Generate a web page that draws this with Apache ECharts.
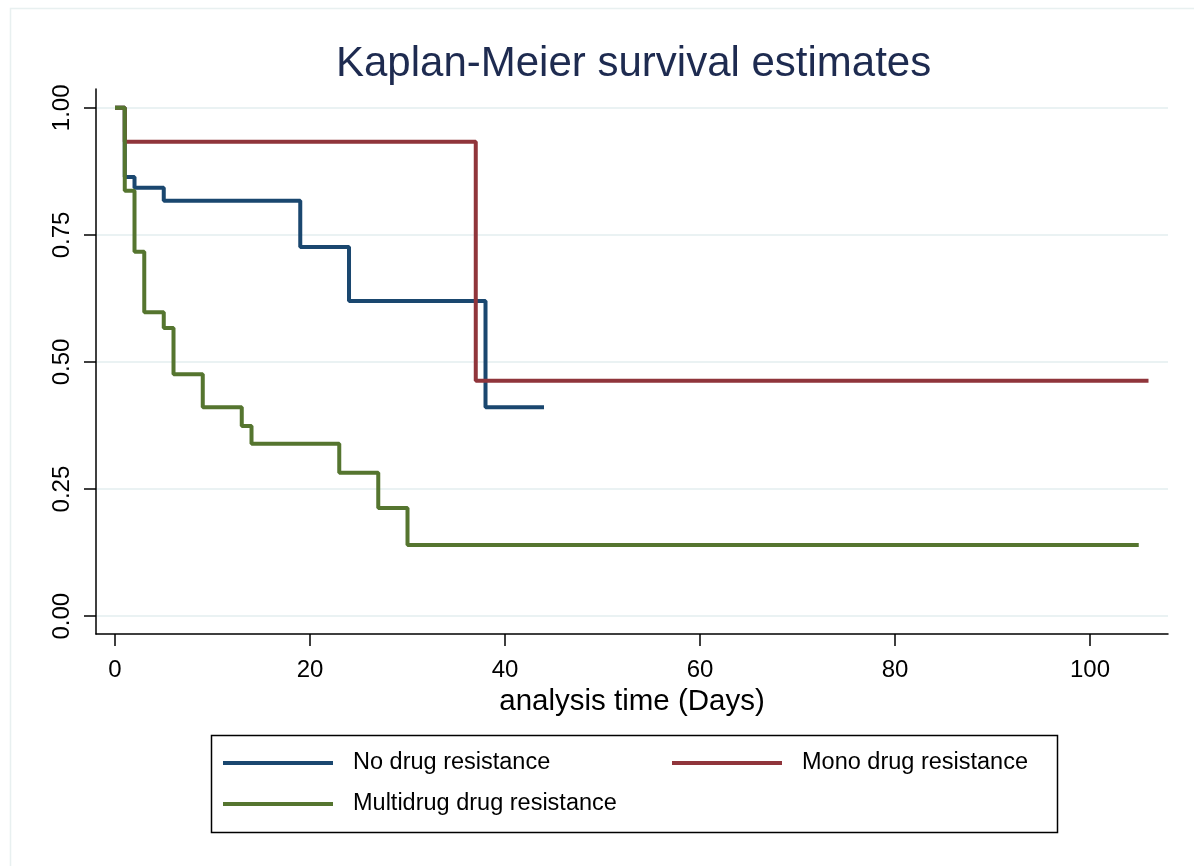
<!DOCTYPE html>
<html>
<head>
<meta charset="utf-8">
<script src="https://cdn.jsdelivr.net/npm/echarts@6/dist/echarts.min.js"></script>
<style>
html,body{margin:0;padding:0;background:#fff;}
#chart{width:1194px;height:866px;}
</style>
</head>
<body>
<div id="chart"></div>
<script>
// Data
const seriesNames = ['No drug resistance', 'Mono drug resistance', 'Multidrug drug resistance'];
const noTimes = [0, 1, 2, 5, 19, 24, 38, 44];
const noSurv = [1.0, 0.864, 0.843, 0.817, 0.726, 0.620, 0.411, 0.411];
const monoTimes = [0, 1, 37, 106];
const monoSurv = [1.0, 0.933, 0.463, 0.463];
const multiTimes = [0, 1, 2, 3, 5, 6, 9, 13, 14, 23, 27, 30, 105];
const multiSurv = [1.0, 0.837, 0.717, 0.598, 0.567, 0.476, 0.411, 0.374, 0.339, 0.282, 0.213, 0.140, 0.140];
const xTicks = [0, 20, 40, 60, 80, 100];
const yTicks = [0, 0.25, 0.5, 0.75, 1.0];

const colors = ['#1a476f', '#90353b', '#55752f'];
const FONT = 'Liberation Sans, Arial, sans-serif';

function pairs(t, s) { return t.map((v, i) => [v, s[i]]); }

const chart = echarts.init(document.getElementById('chart'), null, {renderer: 'canvas'});

const series = [
  {name: seriesNames[0], data: pairs(noTimes, noSurv), color: colors[0]},
  {name: seriesNames[1], data: pairs(monoTimes, monoSurv), color: colors[1]},
  {name: seriesNames[2], data: pairs(multiTimes, multiSurv), color: colors[2]}
].map(s => ({
  type: 'line',
  name: s.name,
  data: s.data,
  step: 'end',
  showSymbol: false,
  symbol: 'none',
  color: s.color,
  lineStyle: {color: s.color, width: 4},
  itemStyle: {color: s.color},
  animation: false
}));

function legendFor(name, left, top) {
  return {
    data: [name],
    left: left, top: top,
    icon: 'rect',
    itemWidth: 110, itemHeight: 4,
    textStyle: {fontFamily: FONT, fontSize: 23.5, color: '#000', padding: [0, 0, 0, 15]},
    selectedMode: false
  };
}

chart.setOption({
  backgroundColor: '#fff',
  animation: false,
  title: {
    text: 'Kaplan-Meier survival estimates',
    left: 331, top: 38,
    textStyle: {fontFamily: FONT, fontSize: 42, fontWeight: 'normal', color: '#1e2b50'}
  },
  legend: [
    legendFor(seriesNames[0], 218, 746),
    legendFor(seriesNames[1], 667, 746),
    legendFor(seriesNames[2], 218, 787)
  ],
  grid: {left: 96, right: 1194 - 1168, top: 89, bottom: 866 - 634, containLabel: false},
  xAxis: {
    type: 'value',
    min: -1.95, max: 108.0,
    name: 'analysis time (Days)',
    nameLocation: 'middle',
    nameGap: 51,
    nameTextStyle: {fontFamily: FONT, fontSize: 29.5, color: '#000'},
    axisLine: {show: true, onZero: false, lineStyle: {color: '#000', width: 1.5}},
    axisTick: {show: true, inside: false, length: 12, customValues: xTicks, lineStyle: {color: '#000', width: 1.5}},
    axisLabel: {customValues: xTicks, margin: 24, fontFamily: FONT, fontSize: 24, color: '#000'},
    splitLine: {show: false}
  },
  yAxis: {
    type: 'value',
    min: -0.035, max: 1.037,
    axisLine: {show: true, onZero: false, lineStyle: {color: '#000', width: 1.5}},
    axisTick: {show: true, inside: false, length: 12, customValues: yTicks, lineStyle: {color: '#000', width: 1.5}},
    axisLabel: {customValues: yTicks, rotate: 90, margin: 22, fontFamily: FONT, fontSize: 24, color: '#000',
      formatter: v => v.toFixed(2)},
    splitLine: {show: true, lineStyle: {color: '#eaf2f3', width: 2}}
  },
  graphic: [
    {type: 'rect', left: 8, top: 6, shape: {width: 1200, height: 900},
     style: {fill: null, stroke: '#e8f0f0', lineWidth: 1.5}, silent: true, z: -10},
    {type: 'rect', left: 209, top: 733, shape: {width: 846, height: 97},
     style: {fill: null, stroke: '#000', lineWidth: 1.5}, silent: true}
  ],
  series: series
});
</script>
</body>
</html>
